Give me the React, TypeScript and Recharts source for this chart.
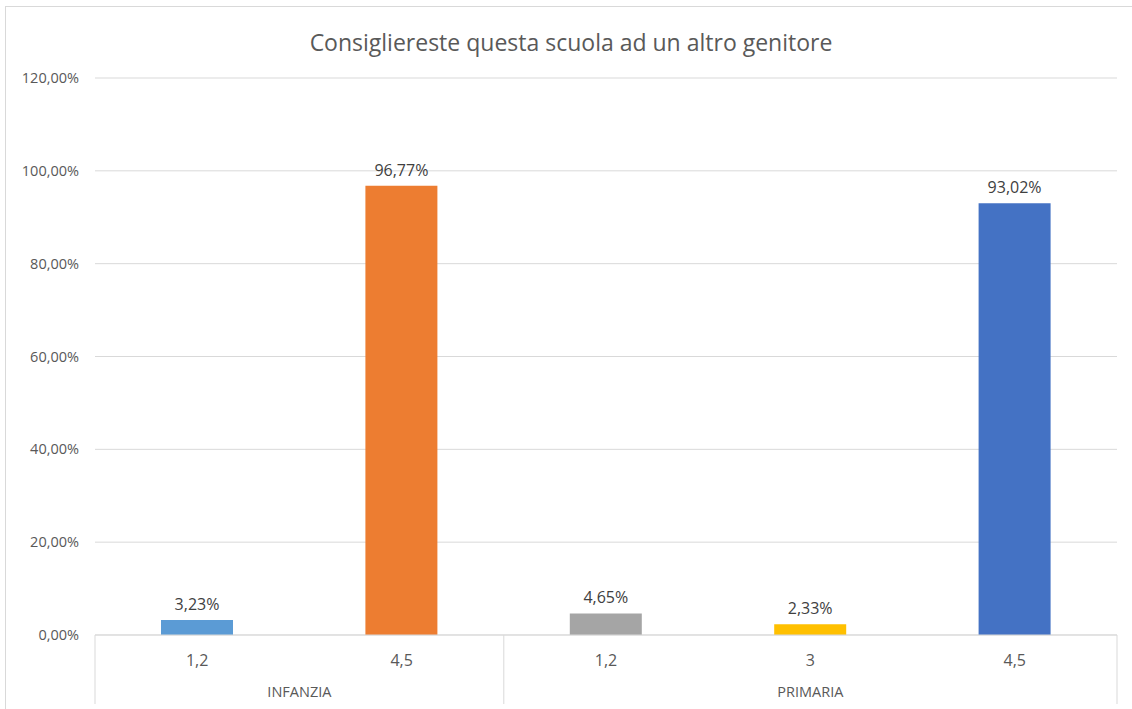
import { Bar, BarChart, CartesianGrid, Cell, LabelList, XAxis, YAxis } from "recharts";

const categories = ["1,2", "4,5", "1,2", "3", "4,5"];
const groups = ["INFANZIA", "INFANZIA", "PRIMARIA", "PRIMARIA", "PRIMARIA"];
const values = [0.0323, 0.9677, 0.0465, 0.0233, 0.9302];
const barColors = ["#5B9BD5", "#ED7D31", "#A5A5A5", "#FFC000", "#4472C4"];
const yTicks = [0, 0.2, 0.4, 0.6, 0.8, 1.0, 1.2];

const data = categories.map((label, i) => ({ label, group: groups[i], value: values[i] }));

const WIDTH = 1132;
const HEIGHT = 709;
const MARGIN = { top: 78, right: 15, left: 0, bottom: 0 };
const Y_AXIS_W = 95;
const PLOT_W = WIDTH - MARGIN.left - MARGIN.right - Y_AXIS_W;
const FONT = "'Open Sans', 'Liberation Sans', sans-serif";

const pct = (v: number) => `${(v * 100).toFixed(2).replace(".", ",")}%`;

function CategoryTick(props: any) {
  const { x, y, payload, index } = props;
  const bw = PLOT_W / data.length;
  const left = x - bw / 2;
  const group = data[index]?.group;
  const isFirst = index === 0 || data[index - 1].group !== group;
  const isLast = index === data.length - 1;
  let groupLabel = null;
  if (isFirst) {
    const count = data.filter((d) => d.group === group).length;
    groupLabel = (
      <text x={left + (bw * count) / 2} y={y + 62} textAnchor="middle" fontSize={14.5} fill="#595959" fontFamily={FONT}>
        {group}
      </text>
    );
  }
  return (
    <g>
      <text x={x} y={y + 31} textAnchor="middle" fontSize={16} fill="#595959" fontFamily={FONT}>
        {payload.value}
      </text>
      {isFirst && <line x1={left} x2={left} y1={y} y2={y + 69} stroke="#d9d9d9" />}
      {isLast && <line x1={left + bw} x2={left + bw} y1={y} y2={y + 69} stroke="#d9d9d9" />}
      {groupLabel}
    </g>
  );
}

export default function App() {
  return (
    <div style={{ position: "absolute", left: 0, top: 0, width: WIDTH, height: HEIGHT, background: "#fff", overflow: "hidden" }}>
      <div
        style={{
          position: "absolute",
          left: 5,
          top: 6,
          width: 1140,
          height: 720,
          border: "1px solid #d9d9d9",
        }}
      />
      <div
        style={{
          position: "absolute",
          left: 5,
          top: 26,
          width: 1132,
          textAlign: "center",
          fontFamily: FONT,
          fontSize: 23,
          color: "#595959",
        }}
      >
        Consigliereste questa scuola ad un altro genitore
      </div>
      <div style={{ position: "absolute", left: 0, top: 0 }}>
        <BarChart width={WIDTH} height={HEIGHT} data={data} margin={MARGIN} barCategoryGap={66}>
          <CartesianGrid vertical={false} stroke="#d9d9d9" />
          <XAxis
            dataKey="label"
            height={74}
            tickLine={false}
            tickSize={0}
            tickMargin={0}
            axisLine={{ stroke: "#d9d9d9" }}
            tick={<CategoryTick />}
            interval={0}
          />
          <YAxis
            width={Y_AXIS_W}
            domain={[0, 1.2]}
            ticks={yTicks}
            tickFormatter={pct}
            axisLine={false}
            tickLine={false}
            tickMargin={10}
            tick={{ fontSize: 14.5, fill: "#595959", fontFamily: FONT }}
          />
          <Bar dataKey="value" isAnimationActive={false}>
            {data.map((d, i) => (
              <Cell key={i} fill={barColors[i]} />
            ))}
            <LabelList
              dataKey="value"
              position="top"
              offset={10}
              formatter={(v: any) => pct(Number(v))}
              style={{ fontSize: 16, fill: "#404040", fontFamily: FONT }}
            />
          </Bar>
        </BarChart>
      </div>
    </div>
  );
}
